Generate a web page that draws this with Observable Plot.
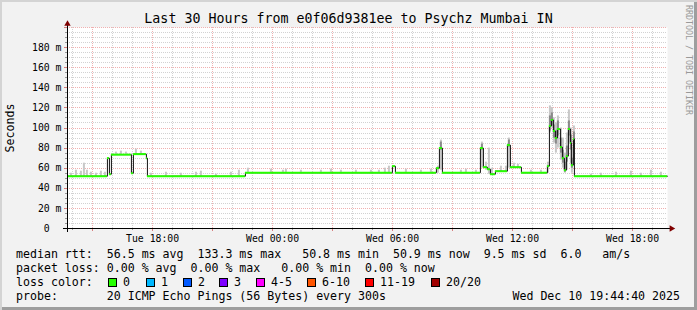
<!DOCTYPE html>
<html><head><meta charset="utf-8">
<script src="https://cdn.jsdelivr.net/npm/d3@7"></script>
<script src="https://cdn.jsdelivr.net/npm/@observablehq/plot@0.6"></script>
<style>
html,body{margin:0;padding:0;background:#f2f2f2;}
#chart{position:relative;width:697px;height:310px;background:#f2f2f2;box-shadow:inset 2px 2px 0 #d4d4d4, inset -3px -3px 0 #9e9e9e;overflow:hidden;font-family:"DejaVu Sans Mono",monospace;color:#000;}
.abs{position:absolute;white-space:pre;line-height:14px;}
.sw{position:absolute;width:9px;height:9px;box-sizing:border-box;border:1px solid #000;}
</style></head><body><div id="chart"></div>
<script>
// time is expressed in hours since Tue 00:00
const START = 13 + 44/60 + 40/3600;   // Tue 13:44:40
const END = START + 30;               // Wed 19:44:40
const SLOT = 0.1;

const medianTimes = [13.744, 15.74, 15.84, 15.94, 16.94, 17.04, 17.69, 17.74, 22.64, 29.99, 30.14, 32.19, 32.34, 32.49,
  34.39, 34.54, 34.74, 34.89, 35.14, 35.74, 35.89, 36.44, 37.74, 37.84, 37.94, 38.04, 38.14, 38.24, 38.39, 38.49,
  38.59, 38.69, 38.79, 38.89, 38.94, 39.04, 39.09];
const medianValues = [52, 70, 54, 73.5, 55, 74, 70, 52, 55.5, 62, 55.5, 60, 80, 55.5,
  80, 61, 59, 54, 57, 83, 61, 55.5, 62, 102, 108, 97, 90, 99, 81, 70,
  58, 72, 99, 85, 63, 89, 52];

const smokeTimes = [13.89, 14.14, 14.39, 14.54, 14.69, 14.89, 15.14, 15.39, 15.59, 16.14, 16.39, 16.64, 17.14, 17.39,
  17.89, 18.64, 19.39, 20.14, 20.39, 21.14, 21.89, 22.29, 22.74, 23.89, 24.49, 24.64, 25.39, 26.39, 26.89, 27.39,
  28.14, 28.89, 29.29, 29.59, 29.79, 30.64, 31.39, 31.89, 32.24, 32.39, 33.39, 33.64, 34.14, 34.44, 34.64, 34.79,
  34.94, 35.39, 35.64, 35.79, 36.04, 36.24, 36.89, 37.39, 37.74, 37.84, 37.94, 38.04, 38.14, 38.24, 38.39, 38.49,
  38.59, 38.69, 38.79, 38.89, 38.94, 39.04, 39.89, 40.39, 41.14, 41.89, 42.39, 42.89, 43.39];
const smokeLow = [52, 52, 52, 52, 52, 52, 52, 52, 52, 73, 73, 73, 74, 74,
  52, 52, 52, 52, 52, 52, 52, 52, 55, 55, 55, 55, 55, 55, 55, 55,
  55, 55, 55, 55, 55, 55, 55, 55, 55, 58, 55, 55, 55, 60, 58, 54,
  53, 56, 56, 60, 60, 60, 55, 55, 55, 95, 100, 85, 75, 80, 68, 60,
  55, 58, 85, 65, 55, 70, 52, 52, 52, 52, 52, 52, 52];
const smokeHigh = [55, 58, 57, 65, 58, 56, 55, 57, 56, 76, 77, 76, 79, 77,
  55, 56, 55, 56, 57, 54, 56, 58, 60, 59, 58, 59, 58, 58, 59, 58,
  58, 58, 58, 60, 62, 59, 58, 59, 62, 88, 58, 59, 58, 86, 66, 80,
  60, 62, 62, 90, 65, 64, 58, 58, 66, 122, 120, 110, 105, 112, 100, 90,
  75, 95, 118, 100, 80, 102, 54, 55, 56, 57, 55, 58, 56];

const coreTimes = [32.39, 34.44, 35.79, 37.84, 37.94, 38.04, 38.14, 38.24, 38.39, 38.49, 38.59, 38.69, 38.79, 38.89, 38.94, 39.04];
const coreLow  = [78, 78, 81, 97, 102, 90, 84, 92, 75, 65, 56, 66, 92, 78, 60, 80];
const coreHigh = [86, 84, 88, 112, 115, 103, 97, 107, 90, 78, 66, 82, 107, 93, 70, 96];

const xTickHours = [18, 24, 30, 36, 42];
const xTickLabels = ["Tue 18:00", "Wed 00:00", "Wed 06:00", "Wed 12:00", "Wed 18:00"];
const yTickValues = [0, 20, 40, 60, 80, 100, 120, 140, 160, 180];
const yTickLabels = ["0\u00a0\u00a0", "20 m", "40 m", "60 m", "80 m", "100 m", "120 m", "140 m", "160 m", "180 m"];

const statLabels = ["median rtt:", "packet loss:", "loss color:", "probe:"];
const rttStats = ["56.5 ms avg", "133.3 ms max", "50.8 ms min", "50.9 ms now", "9.5 ms sd", "6.0", "am/s"];
const lossStats = ["0.00 % avg", "0.00 % max", "0.00 % min", "0.00 % now"];
const lossColorNames = ["0", "1", "2", "3", "4-5", "6-10", "11-19", "20/20"];
const lossColors = ["#26ff00", "#00b8ff", "#0059ff", "#7e00ff", "#ff00ff", "#ff5500", "#ff0000", "#a10000"];
const probeText = "20 ICMP Echo Pings (56 Bytes) every 300s";
const stamp = "Wed Dec 10 19:44:40 2025";
const title = "Last 30 Hours from e0f06d9381ee to Psychz Mumbai IN";

// tables built from the arrays
const medianRows = medianTimes.map((t, i) => ({t, v: medianValues[i], t2: i < medianTimes.length - 1 ? medianTimes[i + 1] : END}));
const lineRows = medianRows.map(d => ({t: d.t, v: d.v})).concat([{t: END, v: medianValues[medianValues.length - 1]}]);
const smokeRows = smokeTimes.map((t, i) => ({t, lo: smokeLow[i], hi: smokeHigh[i]}));
const coreRows = coreTimes.map((t, i) => ({t, lo: coreLow[i], hi: coreHigh[i]}));
const xLabel = new Map(xTickHours.map((h, i) => [h, xTickLabels[i]]));
const yLabel = new Map(yTickValues.map((v, i) => [v, yTickLabels[i]]));

const hours = d3.range(Math.ceil(START), END, 1);
const majorHours = hours.filter(h => h % 3 === 0);
const minorHours = hours.filter(h => h % 3 !== 0);
const ms5 = d3.range(5, 201, 5);
const majorMs = ms5.filter(v => v % 20 === 0);
const minorMs = ms5.filter(v => v % 20 !== 0);

const grid = {shapeRendering: "crispEdges", strokeDasharray: "1,1"};
const plot = Plot.plot({
  width: 697, height: 250,
  marginLeft: 67, marginRight: 30, marginTop: 27, marginBottom: 22,
  x: {domain: [START, END], axis: null},
  y: {domain: [0, 200], axis: null},
  style: {fontFamily: "'DejaVu Sans Mono', monospace", fontSize: "9.8px", background: "transparent", overflow: "visible", color: "#000"},
  marks: [
    Plot.frame({fill: "white", stroke: null}),
    Plot.ruleY(minorMs, {stroke: "#d2d2d2", ...grid}),
    Plot.ruleX(minorHours, {stroke: "#d2d2d2", ...grid}),
    Plot.ruleY(majorMs, {stroke: "#f0b0b0", ...grid}),
    Plot.ruleX(majorHours, {stroke: "#f0b0b0", ...grid}),
    Plot.rect(smokeRows, {x1: "t", x2: d => d.t + SLOT, y1: "lo", y2: "hi", fill: "#c8c8c8"}),
    Plot.rect(coreRows, {x1: "t", x2: d => d.t + SLOT, y1: "lo", y2: "hi", fill: "#8a8a8a"}),
    Plot.line(lineRows, {x: "t", y: "v", curve: "step-after", stroke: "#111", strokeWidth: 1}),
    Plot.ruleY(medianRows, {y: "v", x1: "t", x2: "t2", stroke: "#26ff00", strokeWidth: 2}),
    // axis ticks
    Plot.ruleY(minorMs.concat([0]), {x1: START - 0.1, x2: START, stroke: "#999", shapeRendering: "crispEdges"}),
    Plot.ruleY(majorMs, {x1: START - 0.15, x2: START, stroke: "#d88080", shapeRendering: "crispEdges"}),
    Plot.ruleX(minorHours, {y1: -2, y2: 0, stroke: "#999", shapeRendering: "crispEdges"}),
    Plot.ruleX(majorHours, {y1: -3, y2: 0, stroke: "#d88080", shapeRendering: "crispEdges"}),
    // axis lines
    Plot.ruleY([0], {x1: START - 0.2, x2: END + 0.15, stroke: "#000", shapeRendering: "crispEdges"}),
    Plot.ruleX([START], {y1: -4, y2: 203, stroke: "#000", shapeRendering: "crispEdges"}),
    Plot.dot([0], {x: END + 0.2, y: 0, symbol: "triangle", r: 2.4, fill: "#800000", stroke: null, rotate: 90}),
    Plot.dot([0], {x: START, y: 203.5, symbol: "triangle", r: 2.4, fill: "#800000", stroke: null}),
    Plot.axisY(yTickValues, {tickFormat: d => yLabel.get(d), tickSize: 0, tickPadding: 6, label: null}),
    Plot.axisX(xTickHours, {tickFormat: d => xLabel.get(d), tickSize: 0, tickPadding: 6.5, label: null})
  ]
});
plot.style.position = "absolute";
plot.style.left = "0px";
plot.style.top = "0px";
const chart = document.getElementById("chart");
chart.appendChild(plot);

function addText(txt, left, top, extra) {
  const el = document.createElement("div");
  el.className = "abs";
  el.textContent = txt;
  el.style.left = left + "px";
  el.style.top = top + "px";
  if (extra) Object.assign(el.style, extra);
  chart.appendChild(el);
  return el;
}

// title
addText(title, 0, 11, {width: "697px", textAlign: "center", fontSize: "13.3px", lineHeight: "16px"});
// unit label
addText("Seconds", 10, 128, {fontSize: "11.6px", transform: "translate(-50%,-50%) rotate(-90deg)"});
// watermark
addText("RRDTOOL / TOBI OETIKER", 684, 5, {fontSize: "8.3px", color: "#999999", writingMode: "vertical-rl", lineHeight: "9px"});

// legend rows
const pad = (s, n) => s + " ".repeat(Math.max(0, n - s.length));
const row1 = pad(statLabels[0], 13) + rttStats[0] + "  " + rttStats[1] + "   " + rttStats[2] + "  " + rttStats[3] + "  " + rttStats[4] + "  " + rttStats[5] + "   " + rttStats[6];
const row2 = pad(statLabels[1], 13) + lossStats[0] + "  " + lossStats[1] + "   " + lossStats[2] + "  " + lossStats[3];
addText(row1, 16, 247, {fontSize: "11.6px"});
addText(row2, 16, 261, {fontSize: "11.6px"});
addText(statLabels[2], 16, 275, {fontSize: "11.6px"});
const swX = [108, 146, 183, 219, 256, 307, 365, 431];
lossColorNames.forEach((name, i) => {
  const sw = document.createElement("div");
  sw.className = "sw";
  sw.style.left = swX[i] + "px";
  sw.style.top = "278px";
  sw.style.background = lossColors[i];
  chart.appendChild(sw);
  addText(name, swX[i] + 15, 275, {fontSize: "11.6px"});
});
addText(pad(statLabels[3], 13) + probeText, 16, 289, {fontSize: "11.6px"});
addText(stamp, 0, 289, {fontSize: "11.6px", width: "680px", textAlign: "right", left: "0px"});
</script></body></html>
